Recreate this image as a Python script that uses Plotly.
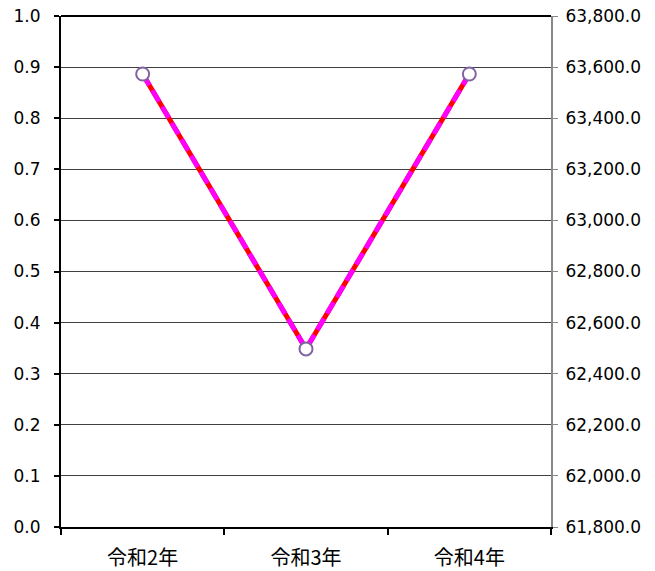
import plotly.graph_objects as go

categories = ["令和2年", "令和3年", "令和4年"]
values = [63573.0, 62497.0, 63573.0]

left_ticks = [round(i * 0.1, 1) for i in range(11)]
right_ticks = [61800 + 200 * i for i in range(11)]

fig = go.Figure()

# invisible trace to activate left axis
fig.add_trace(go.Scatter(
    x=categories, y=[None, None, None], yaxis="y", mode="lines",
    showlegend=False, hoverinfo="skip"))
# red solid underlay
fig.add_trace(go.Scatter(
    x=categories, y=values, yaxis="y2", mode="lines",
    line=dict(color="#FF0000", width=5), showlegend=False, hoverinfo="skip"))
# magenta dashes over it
fig.add_trace(go.Scatter(
    x=categories, y=values, yaxis="y2", mode="lines",
    line=dict(color="#FF00FF", width=5, dash="13px,6px"), showlegend=False, hoverinfo="skip"))
# markers
fig.add_trace(go.Scatter(
    x=categories, y=values, yaxis="y2", mode="markers",
    marker=dict(symbol="circle", size=13, color="white",
                line=dict(color="#8064A2", width=2)),
    showlegend=False))

font_lat = "Verdana, DejaVu Sans, sans-serif"

fig.update_layout(
    width=647, height=563,
    margin=dict(l=53, r=104, t=8, b=44, autoexpand=False),
    paper_bgcolor="white", plot_bgcolor="white",
    font=dict(family=font_lat, size=17, color="#000000"),
    xaxis=dict(
        type="category", tickson="boundaries", range=[-0.5, 2.5],
        ticks="outside", ticklen=6, tickwidth=2, tickcolor="black",
        showline=True, linecolor="black", linewidth=2,
        showgrid=False, automargin=False, ticklabelstandoff=12,
        ticklabeloverflow="allow",
        tickfont=dict(family="Noto Sans CJK JP", size=20, color="#000000"),
    ),
    yaxis=dict(
        range=[0, 1.0], tickvals=left_ticks, ticktext=[f"{v:.1f}" for v in left_ticks],
        ticks="outside", ticklen=5, tickwidth=2, tickcolor="black",
        showline=True, linecolor="black", linewidth=2,
        showgrid=True, gridcolor="#404040", gridwidth=1,
        zeroline=False, ticklabelstandoff=10, automargin=False,
        ticklabeloverflow="allow",
    ),
    yaxis2=dict(
        overlaying="y", side="right",
        range=[61800, 63800], tickvals=right_ticks,
        ticktext=[f"{v:,.1f}" for v in right_ticks],
        ticks="outside", ticklen=5, tickwidth=1, tickcolor="#888888",
        showline=True, linecolor="#888888", linewidth=2,
        showgrid=False, zeroline=False, ticklabelstandoff=4, automargin=False,
        ticklabeloverflow="allow",
    ),
    shapes=[dict(type="line", xref="paper", yref="paper", x0=0, x1=1, y0=1, y1=1,
                 line=dict(color="black", width=2), layer="below")],
)

fig.write_html("out.html")
